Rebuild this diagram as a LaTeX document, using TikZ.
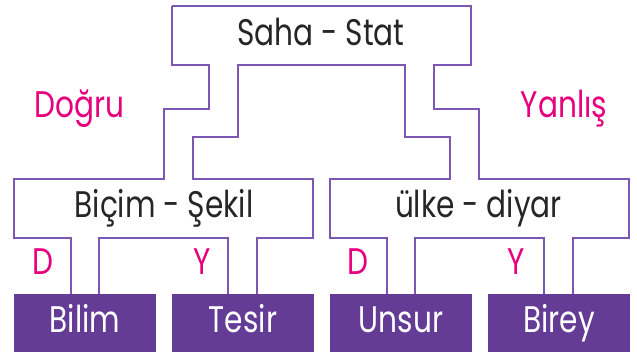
\documentclass[tikz,border=0pt]{standalone}
\usepackage{fontspec}
\setmainfont{Poppins}[FakeStretch=0.8]
\definecolor{lineP}{HTML}{7B57B3}
\definecolor{boxP}{HTML}{643C96}
\definecolor{pinkT}{HTML}{E6007E}
\tikzset{
  outline/.style={draw=lineP, line width=1.4pt, line join=miter},
  word/.style={inner sep=0pt, anchor=base, font=\fontsize{37}{40}\selectfont, text=black!85},
  tag/.style={inner sep=0pt, anchor=base, font=\fontsize{37}{40}\selectfont, text=pinkT},
  leaf/.style={fill=boxP, draw=none, minimum width=142pt, minimum height=58pt, inner sep=0pt},
  leaftext/.style={inner sep=0pt, anchor=base, font=\fontsize{37}{40}\selectfont, text=white}
}
\begin{document}
\begin{tikzpicture}[x=1pt, y=-1pt]
\useasboundingbox (0,0) rectangle (637,352);
% outline of the whole tree
\draw[outline] (172,6) -- (471,6) -- (471,65) -- (434,65) -- (434,109) -- (479,109) -- (479,179)
  -- (629,179) -- (629,238) -- (573,238) -- (573,296);
\draw[outline] (544,296) -- (544,238) -- (415,238) -- (415,296);
\draw[outline] (387,296) -- (387,238) -- (330,238) -- (330,179) -- (450,179) -- (450,137) -- (405,137)
  -- (405,65) -- (238,65) -- (238,137) -- (193,137) -- (193,179) -- (313,179) -- (313,238) -- (257,238) -- (257,296);
\draw[outline] (228,296) -- (228,238) -- (99,238) -- (99,296);
\draw[outline] (71,296) -- (71,238) -- (14,238) -- (14,179) -- (164,179) -- (164,109) -- (209,109) -- (209,65)
  -- (172,65) -- (172,6);
% leaf boxes
\node[leaf] (bilim) at (85,323) {};
\node[leaf] (tesir) at (243,323) {};
\node[leaf] (unsur) at (401,323) {};
\node[leaf] (birey) at (559,323) {};
\node[leaftext] (tbilim) at (85,333) {Bilim};
\node[leaftext] (ttesir) at (243,333) {Tesir};
\node[leaftext] (tunsur) at (401,333) {Unsur};
\node[leaftext] (tbirey) at (559,333) {Birey};
% words
\node[word] (saha) at (321,46) {Saha - Stat};
\node[word] (bicim) at (164,218) {Biçim - Şekil};
\node[word] (ulke) at (478.5,218) {ülke - diyar};
% tags
\node[tag] (dogru) at (79.5,118) {Doğru};
\node[tag] (yanlis) at (564,118) {Yanlış};
\node[tag] (d1) at (43,275) {D};
\node[tag] (y1) at (202.5,275) {Y};
\node[tag] (d2) at (357.5,275) {D};
\node[tag] (y2) at (516,275) {Y};
\end{tikzpicture}
\end{document}
